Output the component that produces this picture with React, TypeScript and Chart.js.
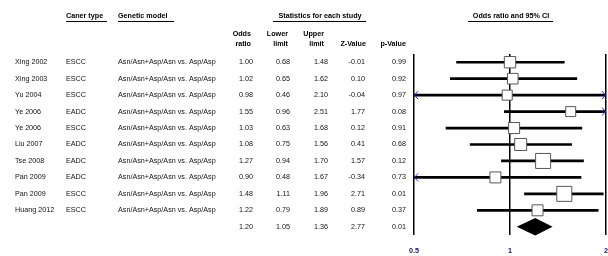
import React, { useEffect, useRef } from 'react';
import { Chart, registerables } from 'chart.js';

Chart.register(...registerables);

const studies = ['Xing 2002', 'Xing 2003', 'Yu 2004', 'Ye 2006', 'Ye 2006', 'Liu 2007', 'Tse 2008', 'Pan 2009', 'Pan 2009', 'Huang 2012'];
const cancerTypes = ['ESCC', 'ESCC', 'ESCC', 'EADC', 'ESCC', 'EADC', 'EADC', 'EADC', 'ESCC', 'ESCC'];
const geneticModels = [
  'Asn/Asn+Asp/Asn vs. Asp/Asp', 'Asn/Asn+Asp/Asn vs. Asp/Asp', 'Asn/Asn+Asp/Asn vs. Asp/Asp',
  'Asn/Asn+Asp/Asn vs. Asp/Asp', 'Asn/Asn+Asp/Asn vs. Asp/Asp', 'Asn/Asn+Asp/Asn vs. Asp/Asp',
  'Asn/Asn+Asp/Asn vs. Asp/Asp', 'Asn/Asn+Asp/Asn vs. Asp/Asp', 'Asn/Asn+Asp/Asn vs. Asp/Asp',
  'Asn/Asn+Asp/Asn vs. Asp/Asp',
];
const oddsRatios = [1.00, 1.02, 0.98, 1.55, 1.03, 1.08, 1.27, 0.90, 1.48, 1.22];
const lowerLimits = [0.68, 0.65, 0.46, 0.96, 0.63, 0.75, 0.94, 0.48, 1.11, 0.79];
const upperLimits = [1.48, 1.62, 2.10, 2.51, 1.68, 1.56, 1.70, 1.67, 1.96, 1.89];
const zValues = [-0.01, 0.10, -0.04, 1.77, 0.12, 0.41, 1.57, -0.34, 2.71, 0.89];
const pValues = [0.99, 0.92, 0.97, 0.08, 0.91, 0.68, 0.12, 0.73, 0.01, 0.37];
const weights = [9.2, 8.1, 7.2, 7.1, 8.7, 10.3, 16.1, 8.6, 16.1, 8.6];
const summaryOR = 1.20;
const summaryLower = 1.05;
const summaryUpper = 1.36;
const summaryZ = 2.77;
const summaryP = 0.01;
const axisTicks = [0.5, 1, 2];

const rowIds = [...studies.map((s, i) => `${s} ${cancerTypes[i]}`), 'Overall'];

const FONT = "'Liberation Sans', Arial, sans-serif";
const FS = 7.2;

const boxSide = (w: number) => 3.74 * Math.sqrt(w);

const forestPlugin = {
  id: 'forestExtras',
  afterDatasetsDraw(chart: any) {
    const { ctx, chartArea } = chart;
    const xs = chart.scales.x;
    const ys = chart.scales.y;
    ctx.save();
    // arrows for truncated CIs
    ctx.strokeStyle = '#2a2aff';
    ctx.lineWidth = 1;
    lowerLimits.forEach((l, i) => {
      const py = ys.getPixelForValue(i);
      if (l < xs.min) {
        const px = chartArea.left;
        ctx.beginPath();
        ctx.moveTo(px + 4, py - 4);
        ctx.lineTo(px + 0.5, py);
        ctx.lineTo(px + 4, py + 4);
        ctx.stroke();
      }
      if (upperLimits[i] > xs.max) {
        const px = chartArea.right;
        ctx.beginPath();
        ctx.moveTo(px - 4, py - 4);
        ctx.lineTo(px - 0.5, py);
        ctx.lineTo(px - 4, py + 4);
        ctx.stroke();
      }
    });
    // summary diamond
    const sy = ys.getPixelForValue(studies.length);
    const xl = xs.getPixelForValue(summaryLower);
    const xc = xs.getPixelForValue(summaryOR);
    const xr = xs.getPixelForValue(summaryUpper);
    ctx.fillStyle = '#000';
    ctx.beginPath();
    ctx.moveTo(xl, sy);
    ctx.lineTo(xc, sy - 8.7);
    ctx.lineTo(xr, sy);
    ctx.lineTo(xc, sy + 8.7);
    ctx.closePath();
    ctx.fill();
    ctx.restore();
  },
  afterDraw(chart: any) {
    const { ctx } = chart;
    const ys = chart.scales.y;
    ctx.save();
    ctx.fillStyle = '#000';
    ctx.strokeStyle = '#000';
    ctx.textBaseline = 'middle';
    // headers
    ctx.font = `bold ${FS}px ${FONT}`;
    ctx.textAlign = 'left';
    ctx.fillText('Caner type', 66, 16.3);
    ctx.fillText('Genetic model', 118, 16.3);
    ctx.textAlign = 'center';
    ctx.fillText('Statistics for each study', 320, 16.3);
    ctx.fillText('Odds ratio and 95% CI', 511, 16.3);
    ctx.lineWidth = 1;
    const ul = (a: number, b: number) => {
      ctx.beginPath();
      ctx.moveTo(a, 21.5);
      ctx.lineTo(b, 21.5);
      ctx.stroke();
    };
    ul(66, 107);
    ul(118, 174);
    ul(273, 366);
    ul(468, 553);
    ctx.textAlign = 'right';
    ctx.fillText('Odds', 251, 34.5);
    ctx.fillText('ratio', 251, 44.4);
    ctx.fillText('Lower', 288, 34.5);
    ctx.fillText('limit', 288, 44.4);
    ctx.fillText('Upper', 324, 34.5);
    ctx.fillText('limit', 324, 44.4);
    ctx.fillText('Z-Value', 366, 44.4);
    ctx.fillText('p-Value', 406, 44.4);
    // rows
    ctx.font = `${FS}px ${FONT}`;
    ctx.fillStyle = '#111';
    studies.forEach((s, i) => {
      const py = ys.getPixelForValue(i);
      ctx.textAlign = 'left';
      ctx.fillText(s, 15, py);
      ctx.fillText(cancerTypes[i], 66, py);
      ctx.fillText(geneticModels[i], 118, py);
      ctx.textAlign = 'right';
      ctx.fillText(oddsRatios[i].toFixed(2), 253, py);
      ctx.fillText(lowerLimits[i].toFixed(2), 290, py);
      ctx.fillText(upperLimits[i].toFixed(2), 328, py);
      ctx.fillText(zValues[i].toFixed(2), 365, py);
      ctx.fillText(pValues[i].toFixed(2), 406, py);
    });
    const sy = ys.getPixelForValue(studies.length);
    ctx.textAlign = 'right';
    ctx.fillText(summaryOR.toFixed(2), 253, sy);
    ctx.fillText(summaryLower.toFixed(2), 290, sy);
    ctx.fillText(summaryUpper.toFixed(2), 328, sy);
    ctx.fillText(summaryZ.toFixed(2), 365, sy);
    ctx.fillText(summaryP.toFixed(2), 406, sy);
    ctx.restore();
  },
};

export default function App() {
  const ref = useRef<HTMLCanvasElement>(null);
  useEffect(() => {
    if (!ref.current) return;
    const chart = new Chart(ref.current, {
      type: 'bar',
      data: {
        labels: rowIds,
        datasets: [
          {
            type: 'scatter',
            label: 'Odds ratio',
            data: oddsRatios.map((v, i) => ({ x: v, y: rowIds[i] })),
            pointStyle: 'rect',
            pointRadius: (c: any) => boxSide(weights[c.dataIndex] ?? 8) / Math.SQRT2,
            pointBackgroundColor: '#fff',
            pointBorderColor: '#555',
            pointBorderWidth: 1,
            order: 0,
            xAxisID: 'x',
            yAxisID: 'y',
          } as any,
          {
            type: 'bar',
            label: '95% CI',
            data: lowerLimits.map((l, i) => [l, upperLimits[i]]),
            backgroundColor: '#000',
            borderWidth: 0,
            barThickness: 2,
            order: 1,
            xAxisID: 'x',
            yAxisID: 'y',
          } as any,
        ],
      },
      options: {
        responsive: false,
        animation: false,
        indexAxis: 'y',
        layout: { autoPadding: false, padding: { left: 414, right: 2, top: 54, bottom: 0 } },
        plugins: { legend: { display: false }, tooltip: { enabled: false } },
        scales: {
          x: {
            type: 'logarithmic',
            min: 0.5,
            max: 2,
            position: 'bottom',
            afterBuildTicks: (s: any) => {
              s.ticks = axisTicks.map((v) => ({ value: v }));
            },
            afterFit: (s: any) => {
              s.height = 21;
              s.paddingLeft = 0;
              s.paddingRight = 0;
            },
            ticks: {
              autoSkip: false,
              maxRotation: 0,
              padding: 12,
              color: '#161650',
              font: { family: FONT, size: FS, weight: 'bold' },
              callback: (v: any) => String(v),
            },
            grid: { color: '#000', lineWidth: 1.5, drawTicks: false },
            border: { display: false },
          },
          y: {
            type: 'category',
            display: false,
            offset: true,
            grid: { display: false },
          },
        },
      } as any,
      plugins: [forestPlugin],
    });
    return () => chart.destroy();
  }, []);
  return (
    <div style={{ position: 'absolute', left: 0, top: 0, width: 608, height: 256, background: '#fff' }}>
      <canvas ref={ref} width={608} height={256} style={{ display: 'block' }} />
    </div>
  );
}
